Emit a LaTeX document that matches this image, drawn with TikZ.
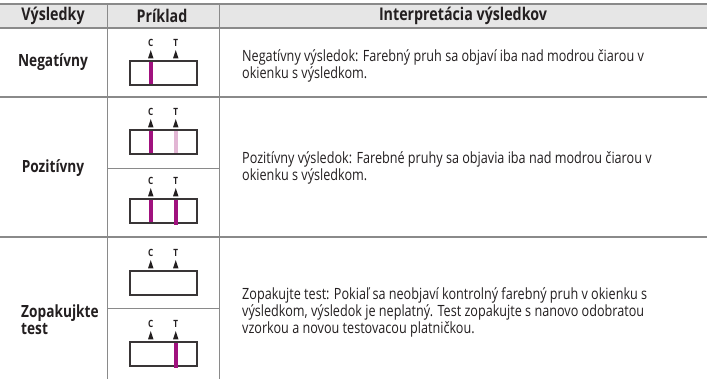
\documentclass[tikz,border=0pt]{standalone}
\usepackage{fontspec}
\setmainfont{Open Sans}[FakeStretch=0.815]
\definecolor{rule}{HTML}{8A8A8A}
\definecolor{hdr}{HTML}{E6E6E6}
\definecolor{ink}{HTML}{231F20}
\definecolor{band}{HTML}{A0117E}
\definecolor{faint}{HTML}{E2B6D4}
\begin{document}
\begin{tikzpicture}[x=1pt,y=-1pt,
  rulel/.style={draw=rule,line width=1.4pt},
  gridl/.style={draw=rule,line width=0.9pt},
  hdrtext/.style={font=\fontsize{17.5}{19}\selectfont\bfseries,text=ink,inner sep=0pt},
  labtext/.style={font=\fontsize{16.8}{17}\selectfont\bfseries,text=ink,inner sep=0pt},
  bodytext/.style={font=\fontsize{15.5}{17}\selectfont,text=ink,inner sep=0pt,align=left,anchor=west},
  ctlab/.style={font=\fontsize{10}{10}\selectfont\bfseries,text=ink,inner sep=0pt},
  stripbox/.style={draw=ink!90,line width=1.1pt},
  tri/.style={fill=ink},
]
\useasboundingbox (0,0) rectangle (707,379);
% header
\fill[hdr] (0,4) rectangle (707,28);
\draw[rulel] (0,4) -- (707,4);
\draw[rulel] (0,28) -- (707,28);
\draw[rulel] (0,97) -- (707,97);
\draw[rulel] (0,237) -- (707,237);
\draw[gridl] (107,168) -- (219,168);
\draw[gridl] (107,308) -- (219,308);
\draw[gridl] (107,4) -- (107,379);
\draw[gridl] (219,4) -- (219,379);
% header texts
\node[hdrtext] (h1) at (53,16) {Výsledky};
\node[hdrtext] (h2) at (162,16) {Príklad};
\node[hdrtext] (h3) at (463,16) {Interpretácia výsledkov};
% left labels
\node[labtext] (l1) at (53,62) {Negatívny};
\node[labtext] (l2) at (53,168) {Pozitívny};
\node[labtext,align=left,anchor=west] (l3) at (21,320) {Zopakujkte\\test};
% body texts
\node[bodytext] (t1) at (242,66) {Negatívny výsledok: Farebný pruh sa objaví iba nad modrou čiarou v\\okienku s výsledkom.};
\node[bodytext] (t2) at (242,168) {Pozitívny výsledok: Farebné pruhy sa objavia iba nad modrou čiarou v\\okienku s výsledkom.};
\node[bodytext] (t3) at (242,312) {Zopakujte test: Pokiaľ sa neobjaví kontrolný farebný pruh v okienku s\\výsledkom, výsledok je neplatný. Test zopakujte s nanovo odobratou\\vzorkou a novou testovacou platničkou.};
% strips
\foreach \n/\top/\cb/\tb/\ext in {a/61/band/white/0, b/130/band/faint/0, c/199/band/band/3, d/271/white/white/0, e/342/white/band/3}{
  \fill[\cb] (148.5,\top) rectangle (153,\top+24);
  \draw[stripbox] (130,\top) rectangle (197,\top+24);
  \fill[\tb] (173.5,\top+0.6) rectangle (178,\top+23.4+\ext);
  \fill[tri] (148,\top-2.5) -- (153.5,\top-2.5) -- (150.75,\top-11) -- cycle;
  \fill[tri] (173,\top-2.5) -- (178.5,\top-2.5) -- (175.75,\top-11) -- cycle;
  \node[ctlab] (c\n) at (150.75,\top-18) {C};
  \node[ctlab] (t\n) at (175.75,\top-18) {T};
}
\end{tikzpicture}
\end{document}
